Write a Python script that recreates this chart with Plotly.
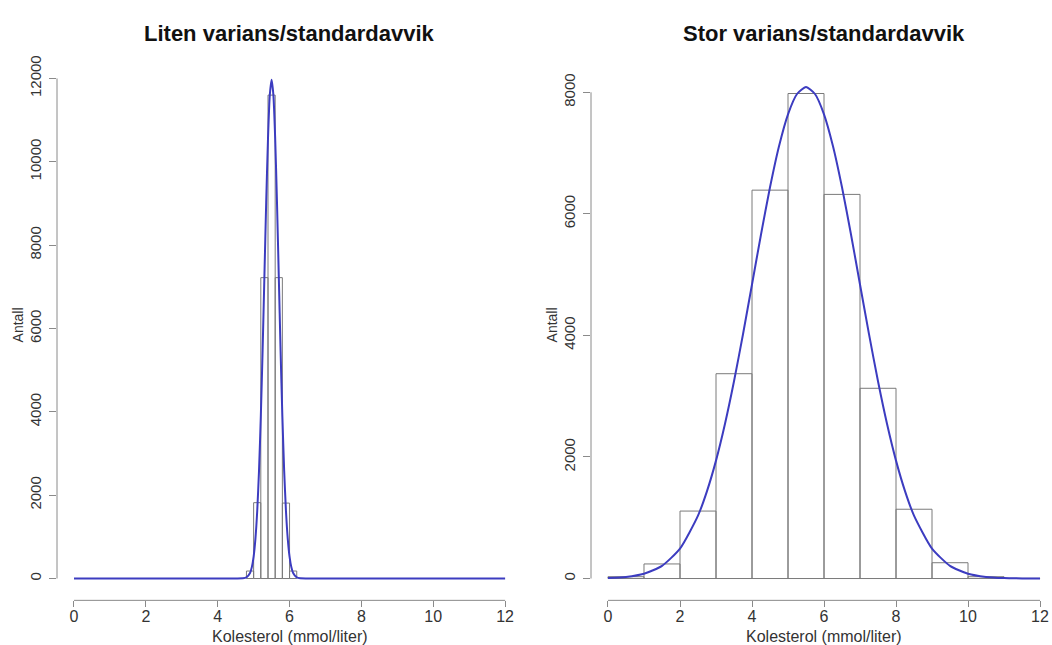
import plotly.graph_objects as go

# ---------------- data ----------------
left_title = "Liten varians/standardavvik"
right_title = "Stor varians/standardavvik"
x_label = "Kolesterol (mmol/liter)"
y_label = "Antall"

x_ticks = [0, 2, 4, 6, 8, 10, 12]
left_y_ticks = [0, 2000, 4000, 6000, 8000, 10000, 12000]
right_y_ticks = [0, 2000, 4000, 6000, 8000]

# left histogram: bin starts (width 0.2) and counts
left_bin_width = 0.2
left_bin_starts = [4.8, 5.0, 5.2, 5.4, 5.6, 5.8, 6.0]
left_counts = [180, 1820, 7220, 11600, 7220, 1810, 180]

# right histogram: bin starts (width 1) and counts
right_bin_width = 1.0
right_bin_starts = [0, 1, 2, 3, 4, 5, 6, 7, 8, 9, 10, 11]
right_counts = [30, 240, 1110, 3370, 6390, 7980, 6320, 3130, 1140, 260, 30, 3]

# fitted normal curves
left_curve_x = [0, 4.5, 4.7, 4.8, 4.9, 4.95, 5.0, 5.05, 5.1, 5.15, 5.2, 5.25, 5.3,
                5.35, 5.4, 5.45, 5.5, 5.55, 5.6, 5.65, 5.7, 5.75, 5.8, 5.85,
                5.9, 5.95, 6.0, 6.05, 6.1, 6.2, 6.3, 6.5, 12]
left_curve_y = [0, 0, 4, 26, 133, 273, 526, 953, 1620, 2589, 3887, 5480, 7260,
                9035, 10560, 11600, 11970, 11600, 10560, 9035, 7260, 5480, 3887,
                2589, 1620, 953, 526, 273, 133, 26, 4, 0, 0]

right_curve_x = [0, 0.5, 1, 1.5, 2, 2.5, 2.75, 3, 3.25, 3.5, 3.75, 4, 4.25, 4.5,
                 4.75, 5, 5.25, 5.5, 5.75, 6, 6.25, 6.5, 6.75, 7, 7.25, 7.5, 7.75,
                 8, 8.25, 8.5, 9, 9.5, 10, 10.5, 11, 11.5, 12]
right_curve_y = [8, 27, 79, 209, 493, 1036, 1439, 1940, 2546, 3245, 4020, 4838,
                 5661, 6437, 7113, 7638, 7972, 8087, 7972, 7638, 7113, 6437, 5661,
                 4838, 4020, 3245, 2546, 1940, 1439, 1036, 493, 209, 79, 27, 8, 2, 0]

# ---------------- styling ----------------
FONT = "Liberation Sans, Arial, sans-serif"
BAR_LINE = "#7a7a7a"
AXIS_COL = "#8a8a8a"
TEXT_COL = "#333333"
CURVE_COL = "#3c3cc0"

W, H = 1052, 645
y_dom = [1 - 600 / H, 1 - 56 / H]
left_dom = [57 / W, 522 / W]
right_dom = [591 / W, 1.0]

fig = go.Figure()

def add_hist(starts, counts, width, xa, ya):
    centers = [s + width / 2 for s in starts]
    fig.add_trace(go.Bar(
        x=centers, y=counts, width=width, xaxis=xa, yaxis=ya,
        marker=dict(color="rgba(255,255,255,0)", line=dict(color=BAR_LINE, width=1)),
        showlegend=False, hoverinfo="x+y"))

def add_curve(xs, ys, xa, ya):
    fig.add_trace(go.Scatter(
        x=xs, y=ys, mode="lines", xaxis=xa, yaxis=ya,
        line=dict(color=CURVE_COL, width=2, shape="spline", smoothing=0.6),
        showlegend=False))

add_hist(left_bin_starts, left_counts, left_bin_width, "x", "y")
add_curve(left_curve_x, left_curve_y, "x", "y")
add_hist(right_bin_starts, right_counts, right_bin_width, "x2", "y2")
add_curve(right_curve_x, right_curve_y, "x2", "y2")

xcommon = dict(tickmode="array", tickvals=x_ticks, ticktext=[str(v) for v in x_ticks],
               ticks="outside", ticklen=6, tickwidth=1, tickcolor=AXIS_COL,
               ticklabelstandoff=-5,
               showline=False, showgrid=False, zeroline=False,
               tickfont=dict(family=FONT, size=16, color=TEXT_COL))
ycommon = dict(ticks="outside", ticklen=7, tickwidth=1, tickcolor=AXIS_COL,
               showline=False, showgrid=False, zeroline=False, tickangle=-90,
               ticklabelstandoff=2,
               tickfont=dict(family=FONT, size=15, color=TEXT_COL))

fig.update_layout(
    width=W, height=H,
    margin=dict(l=0, r=0, t=0, b=0),
    paper_bgcolor="white", plot_bgcolor="white",
    barmode="overlay",
    xaxis=dict(domain=left_dom, range=[-0.473, 12.47], anchor="y", **xcommon),
    yaxis=dict(domain=y_dom, range=[-524, 12429], anchor="x",
               tickvals=left_y_ticks, ticktext=[str(v) for v in left_y_ticks], **ycommon),
    xaxis2=dict(domain=right_dom, range=[-0.472, 12.333], anchor="y2", **xcommon),
    yaxis2=dict(domain=y_dom, range=[-359, 8522], anchor="x2",
                tickvals=right_y_ticks, ticktext=[str(v) for v in right_y_ticks], **ycommon),
)

# R-style detached axis lines spanning first to last tick
for xa, ya, yt in [("x", "y", left_y_ticks), ("x2", "y2", right_y_ticks)]:
    fig.add_shape(type="line", xref=xa, yref=ya + " domain",
                  x0=x_ticks[0], x1=x_ticks[-1], y0=0, y1=0,
                  line=dict(color=AXIS_COL, width=1))
    fig.add_shape(type="line", xref=xa + " domain", yref=ya,
                  x0=0, x1=0, y0=yt[0], y1=yt[-1],
                  line=dict(color=AXIS_COL, width=1))

# titles and axis labels
for xa, ya, title in [("x", "y", left_title), ("x2", "y2", right_title)]:
    fig.add_annotation(text="<b>%s</b>" % title, xref=xa, x=6, yref="paper", y=1 - 29 / H,
                       showarrow=False, xanchor="center", yanchor="middle",
                       font=dict(family=FONT, size=22, color="#111111"))
    fig.add_annotation(text=x_label, xref=xa, x=6, yref=ya + " domain", y=0, yshift=-36,
                       showarrow=False, xanchor="center", yanchor="middle",
                       font=dict(family=FONT, size=16, color=TEXT_COL))
    fig.add_annotation(text=y_label, xref=xa + " domain", x=0, xshift=-39,
                       yref=ya + " domain", y=0.5, yshift=5, textangle=-90,
                       showarrow=False, xanchor="center", yanchor="middle",
                       font=dict(family=FONT, size=14, color=TEXT_COL))

fig.write_html("out.html", config={"displayModeBar": False},
               post_script="document.body.style.margin='0';document.body.style.overflow='hidden';")
